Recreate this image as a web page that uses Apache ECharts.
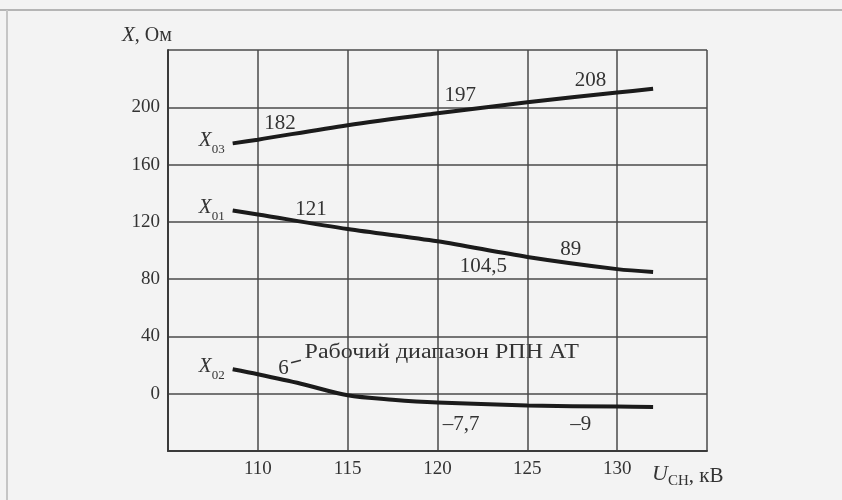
<!DOCTYPE html>
<html>
<head>
<meta charset="utf-8">
<script src="https://cdn.jsdelivr.net/npm/echarts@6/dist/echarts.min.js"></script>
<style>html,body{margin:0;padding:0;background:#f3f3f3;}#c{width:842px;height:500px;}</style>
</head>
<body>
<div id="c"></div>
<script>
// ---- data ----
const xTicks = [110, 115, 120, 125, 130];
const yTicks = [0, 40, 80, 120, 160, 200];

const uX03 = [108.6, 110, 115, 120, 125, 130, 132];
const vX03 = [174.8, 177.4, 187.5, 195.8, 203.5, 210.3, 212.9];

const uX01 = [108.6, 110, 115, 120, 125, 130, 132];
const vX01 = [128, 125.2, 115, 106.4, 95.5, 87, 85];

const uX02 = [108.6, 110, 112.4, 115, 117.5, 120, 125, 130, 132];
const vX02 = [17.1, 13.6, 7, -1.1, -4.2, -6.2, -8.2, -9, -9.3];

// annotation texts placed in data coordinates [u, x, text]
const annX03 = [[111.24, 188.6, '182'], [121.27, 208.2, '197'], [128.52, 218.7, '208']];
const annX01 = [[112.96, 128.9, '121'], [122.55, 88.6, '104,5'], [127.41, 101, '89']];
const annX02 = [[111.43, 17.6, '6'], [121.32, -21.4, '–7,7'], [127.97, -21.4, '–9']];
const noteRange = [112.6, 28.7, 'Рабочий диапазон РПН АТ'];
const noteArrow = [[112.4, 23.4], [111.85, 21.6]];

const seriesNames = ['03', '01', '02'];

// ---- chart ----
const FONT = 'Liberation Serif';
const TXT = '#333';
const chart = echarts.init(document.getElementById('c'), null, {renderer: 'canvas'});

function pairs(u, v) { return u.map((x, i) => [x, v[i]]); }

function annPoints(list) {
  return list.map(([x, y, t]) => ({coord: [x, y], label: {formatter: t}}));
}

function nameLabel(u, v, sub) {
  return {
    coord: [u[0], v[0]],
    label: {
      show: true, position: 'left', distance: 8,
      formatter: '{x|X}{s|' + sub + '}',
      rich: {
        x: {fontFamily: FONT, fontStyle: 'italic', fontSize: 21, lineHeight: 26, verticalAlign: 'top', color: TXT},
        s: {fontFamily: FONT, fontSize: 13, lineHeight: 14, verticalAlign: 'bottom', color: TXT}
      }
    }
  };
}

function makeSeries(u, v, ann, sub) {
  const data = [nameLabel(u, v, sub)].concat(annPoints(ann));
  return {
    type: 'line',
    data: pairs(u, v),
    smooth: 0.3,
    showSymbol: false,
    lineStyle: {color: '#1b1b1b', width: 4},
    silent: true,
    markPoint: {
      symbol: 'circle', symbolSize: 0, silent: true,
      label: {show: true, position: 'inside', color: TXT, fontFamily: FONT, fontSize: 21},
      data: data
    }
  };
}

const baseGraphic = [
  {type: 'line', shape: {x1: 0, y1: 10, x2: 842, y2: 10}, style: {stroke: '#b5b5b5', lineWidth: 2}, silent: true},
  {type: 'line', shape: {x1: 7, y1: 10, x2: 7, y2: 500}, style: {stroke: '#c5c5c5', lineWidth: 2}, silent: true},
  {
    type: 'text', left: 122, top: 25, silent: true,
    style: {
      text: '{i|X}, Ом', fill: TXT, fontFamily: FONT, fontSize: 20,
      rich: {i: {fontStyle: 'italic', fontFamily: FONT, fontSize: 21}}
    }
  },
  {
    type: 'text', left: 652, top: 463, silent: true,
    style: {
      text: '{u|U}{s|СН}{n|, кВ}', fill: TXT,
      rich: {
        u: {fontStyle: 'italic', fontFamily: FONT, fontSize: 22, lineHeight: 26, verticalAlign: 'top'},
        s: {fontFamily: FONT, fontSize: 15, lineHeight: 15, verticalAlign: 'bottom'},
        n: {fontFamily: FONT, fontSize: 21, lineHeight: 26, verticalAlign: 'top', padding: [3, 0, 0, 0]}
      }
    }
  }
];

const option = {
  backgroundColor: '#f3f3f3',
  animation: false,
  grid: {left: 168, right: 135, top: 50, bottom: 49},
  xAxis: {
    type: 'value', min: 105, max: 135, interval: 5,
    axisLine: {show: true, onZero: false, lineStyle: {color: '#3a3a3a', width: 2}},
    axisTick: {show: false},
    axisLabel: {
      margin: 9, color: TXT, fontFamily: FONT, fontSize: 19,
      formatter: v => xTicks.includes(v) ? String(v) : ''
    },
    splitLine: {show: true, lineStyle: {color: '#4a4a4a', width: 1.5}}
  },
  yAxis: {
    type: 'value', min: -40, max: 240, interval: 40,
    axisLine: {show: true, onZero: false, lineStyle: {color: '#3a3a3a', width: 2}},
    axisTick: {show: false},
    axisLabel: {
      margin: 8, color: TXT, fontFamily: FONT, fontSize: 19,
      formatter: v => yTicks.includes(v) ? String(v) : ''
    },
    splitLine: {show: true, lineStyle: {color: '#4a4a4a', width: 1.5}}
  },
  graphic: baseGraphic,
  series: [
    makeSeries(uX03, vX03, annX03, seriesNames[0]),
    makeSeries(uX01, vX01, annX01, seriesNames[1]),
    makeSeries(uX02, vX02, annX02, seriesNames[2])
  ]
};
chart.setOption(option);

// note text and its small leader, placed through the chart's own scales
const p = chart.convertToPixel({gridIndex: 0}, [noteRange[0], noteRange[1]]);
const a1 = chart.convertToPixel({gridIndex: 0}, noteArrow[0]);
const a2 = chart.convertToPixel({gridIndex: 0}, noteArrow[1]);
chart.setOption({
  graphic: baseGraphic.concat([
    {
      type: 'text', x: p[0], y: p[1], scaleX: 1.2, silent: true,
      style: {text: noteRange[2], fill: TXT, fontFamily: FONT, fontSize: 20, verticalAlign: 'middle', align: 'left'}
    },
    {type: 'line', shape: {x1: a1[0], y1: a1[1], x2: a2[0], y2: a2[1]}, style: {stroke: TXT, lineWidth: 1.5}, silent: true}
  ])
});
</script>
</body>
</html>
